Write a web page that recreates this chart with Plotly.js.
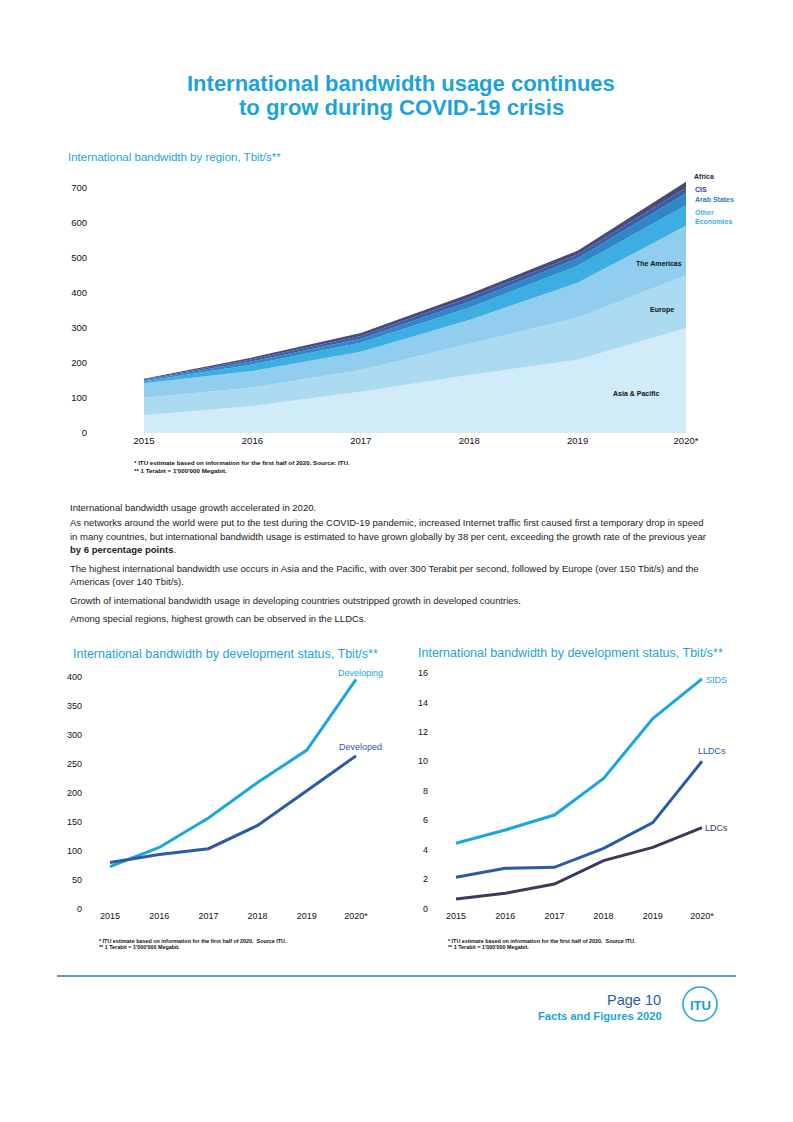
<!DOCTYPE html>
<html><head><meta charset="utf-8">
<script src="https://cdn.plot.ly/plotly-3.0.1.min.js"></script>
<style>html,body{margin:0;padding:0;background:#fff}#chart{width:793px;height:1122px}</style>
</head><body><div id="chart"></div>
<script>
// ---- data ----
const years = [2015, 2016, 2017, 2018, 2019, 2020];
const yearLabels = ['2015', '2016', '2017', '2018', '2019', '2020*'];
const regionNames = ['Asia & Pacific', 'Europe', 'The Americas', 'Other Economies', 'Arab States', 'CIS', 'Africa'];
const asiaPacific = [51, 77, 118, 166, 209, 300];
const europe = [50, 53, 62, 88, 120, 151];
const americas = [41, 47, 52, 69, 100, 141];
const otherEconomies = [6, 19, 26, 35, 49, 59];
const arabStates = [3, 9, 11, 17, 21, 34];
const cis = [2, 6, 8, 12, 11, 16];
const africa = [2, 5, 9, 10, 11, 17];
const developing = [73, 106, 157, 218, 274, 396];
const developed = [80, 94, 104, 144, 204, 264];
const sids = [4.43, 5.33, 6.35, 8.84, 12.9, 15.6];
const lldcs = [2.12, 2.73, 2.8, 4.09, 5.83, 10.0];
const ldcs = [0.65, 1.03, 1.66, 3.25, 4.15, 5.49];
const regionTicks = [0, 100, 200, 300, 400, 500, 600, 700];
const devTicks = [0, 50, 100, 150, 200, 250, 300, 350, 400];
const specialTicks = [0, 2, 4, 6, 8, 10, 12, 14, 16];

// ---- helpers ----
const W = 793, H = 1122;
const px = x => x / W;
const py = y => 1 - y / H;
const FONT = 'Liberation Sans, Arial, sans-serif';
const CYAN = '#1ca3dc';
function ann(text, x, y, size, color, opts) {
  return Object.assign({
    text: text, x: px(x), y: py(y), xref: 'paper', yref: 'paper',
    xanchor: 'left', yanchor: 'middle', showarrow: false, borderpad: 0,
    font: {family: FONT, size: size, color: color}
  }, opts || {});
}

const regionColors = ['#d2ebf8', '#acdaf1', '#90cdee', '#3daee1', '#2e87c6', '#385fa9', '#4b4977'];
const regionSeries = [asiaPacific, europe, americas, otherEconomies, arabStates, cis, africa];

const traces = regionSeries.map((vals, i) => ({
  x: years, y: vals, name: regionNames[i], type: 'scatter', mode: 'lines',
  stackgroup: 'regions', line: {width: 0, color: regionColors[i]},
  fillcolor: regionColors[i], xaxis: 'x', yaxis: 'y', hoverinfo: 'skip'
}));

traces.push(
  {x: years, y: developing, name: 'Developing', mode: 'lines', line: {color: '#1aa7e0', width: 3}, xaxis: 'x2', yaxis: 'y2'},
  {x: years, y: developed, name: 'Developed', mode: 'lines', line: {color: '#2a5ba8', width: 3}, xaxis: 'x2', yaxis: 'y2'},
  {x: years, y: sids, name: 'SIDS', mode: 'lines', line: {color: '#1aa7e0', width: 3}, xaxis: 'x3', yaxis: 'y3'},
  {x: years, y: lldcs, name: 'LLDCs', mode: 'lines', line: {color: '#2a5ba8', width: 3}, xaxis: 'x3', yaxis: 'y3'},
  {x: years, y: ldcs, name: 'LDCs', mode: 'lines', line: {color: '#3b3a5e', width: 3}, xaxis: 'x3', yaxis: 'y3'}
);

function xAx(d0, d1, r0, r1, anchor, fs) {
  return {domain: [px(d0), px(d1)], range: [r0, r1], tickmode: 'array', tickvals: years, ticktext: yearLabels,
    showgrid: false, zeroline: false, showline: false, ticks: '', tickfont: {family: FONT, size: fs, color: '#111'},
    anchor: anchor, fixedrange: true};
}
function yAx(top, bottom, r1, tv, anchor, fs) {
  return {domain: [py(bottom), py(top)], range: [0, r1], tickmode: 'array', tickvals: tv,
    showgrid: false, zeroline: false, showline: false, ticks: '', tickfont: {family: FONT, size: fs, color: '#111'},
    anchor: anchor, fixedrange: true};
}

const annotations = [
  ann('<b>International bandwidth usage continues</b>', 401.5, 84, 22, CYAN, {xanchor: 'center'}),
  ann('<b>to grow during COVID-19 crisis</b>', 401.5, 108, 22, CYAN, {xanchor: 'center'}),
  ann('International bandwidth by region, Tbit/s**', 67, 157, 11.5, CYAN),
  // region labels
  ann('<b>Africa</b>', 693, 177, 7, '#1f1f3f'),
  ann('<b>CIS</b>', 694, 190, 7, '#2b3d8f'),
  ann('<b>Arab States</b>', 694, 200, 7, '#2e7fc2'),
  ann('<b>Other</b>', 694, 212, 7, '#3aaee0'),
  ann('<b>Economies</b>', 694, 221, 7, '#3aaee0'),
  ann('<b>The Americas</b>', 659, 263, 7, '#111', {xanchor: 'center'}),
  ann('<b>Europe</b>', 662, 310, 7, '#111', {xanchor: 'center'}),
  ann('<b>Asia & Pacific</b>', 636, 394, 7, '#111', {xanchor: 'center'}),
  ann('<b>* ITU estimate based on information for the first half of 2020. Source: ITU.</b>', 133, 463, 6.2, '#111'),
  ann('<b>** 1 Terabit = 1\'000\'000 Megabit.</b>', 133, 470, 6.2, '#111'),
  // body text
  ann('International bandwidth usage growth accelerated in 2020.', 69, 507, 9.5, '#222'),
  ann('As networks around the world were put to the test during the COVID-19 pandemic, increased Internet traffic first caused first a temporary drop in speed', 69, 523, 9.5, '#222'),
  ann('in many countries, but international bandwidth usage is estimated to have grown globally by 38 per cent, exceeding the growth rate of the previous year', 69, 536, 9.5, '#222'),
  ann('<b>by 6 percentage points</b>.', 69, 549, 9.5, '#222'),
  ann('The highest international bandwidth use occurs in Asia and the Pacific, with over 300 Terabit per second, followed by Europe (over 150 Tbit/s) and the', 69, 568, 9.5, '#222'),
  ann('Americas (over 140 Tbit/s).', 69, 581, 9.5, '#222'),
  ann('Growth of international bandwidth usage in developing countries outstripped growth in developed countries.', 69, 600, 9.5, '#222'),
  ann('Among special regions, highest growth can be observed in the LLDCs.', 69, 619, 9.5, '#222'),
  // bottom charts
  ann('International bandwidth by development status, Tbit/s**', 72, 654, 12.5, CYAN),
  ann('International bandwidth by development status, Tbit/s**', 417, 653, 12.5, CYAN),
  ann('Developing', 384, 673, 9, '#1aa7e0', {xanchor: 'right'}),
  ann('Developed', 383, 747, 9, '#2a5ba8', {xanchor: 'right'}),
  ann('SIDS', 705, 680, 9, '#1aa7e0'),
  ann('LLDCs', 727, 751, 9, '#2a5ba8', {xanchor: 'right'}),
  ann('LDCs', 704, 828, 9, '#3b3a5e'),
  ann('<b>* ITU estimate based on information for the first half of 2020.  Source ITU.</b>', 98, 941, 5.4, '#111'),
  ann('<b>** 1 Terabit = 1\'000\'000 Megabit.</b>', 98, 947, 5.4, '#111'),
  ann('<b>* ITU estimate based on information for the first half of 2020.  Source ITU.</b>', 447, 941, 5.4, '#111'),
  ann('<b>** 1 Terabit = 1\'000\'000 Megabit.</b>', 447, 947, 5.4, '#111'),
  // footer
  ann('Page 10', 662, 1000, 14.5, '#2b5ca8', {xanchor: 'right'}),
  ann('<b>Facts and Figures 2020</b>', 663, 1016, 11.2, CYAN, {xanchor: 'right'}),
  ann('<b>ITU</b>', 700, 1005, 13, '#1f9bd6', {xanchor: 'center'})
];

const shapes = [
  {type: 'line', xref: 'paper', yref: 'paper', x0: px(57), x1: px(736), y0: py(976), y1: py(976), line: {color: '#3a6fb8', width: 1.3}},
  {type: 'circle', xref: 'paper', yref: 'paper', x0: px(683), x1: px(717), y0: py(1021), y1: py(987), line: {color: '#2aa4dc', width: 1.6}}
];

const layout = {
  width: W, height: H, margin: {l: 0, r: 0, t: 0, b: 0},
  paper_bgcolor: '#fff', plot_bgcolor: 'rgba(0,0,0,0)', showlegend: false,
  font: {family: FONT},
  xaxis: xAx(88, 720, 2015 - 56 / 108.4, 2020 + 34 / 108.4, 'y', 9.5),
  yaxis: yAx(170.5, 433, 750, regionTicks, 'x', 9.5),
  xaxis2: xAx(83, 390, 2015 - 27 / 49.2, 2020 + 34 / 49.2, 'y2', 9),
  yaxis2: yAx(665.4, 909, 420, devTicks, 'x2', 9),
  xaxis3: xAx(429, 740, 2015 - 27 / 49.2, 2020 + 38 / 49.2, 'y3', 9),
  yaxis3: yAx(661.2, 908.5, 16.8, specialTicks, 'x3', 9),
  annotations: annotations, shapes: shapes
};

Plotly.newPlot('chart', traces, layout, {staticPlot: true, displayModeBar: false});
</script></body></html>
